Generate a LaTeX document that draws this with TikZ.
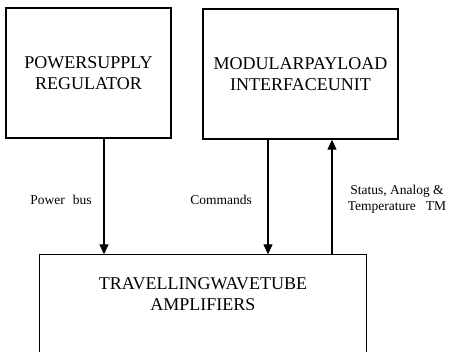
\documentclass[tikz,border=0pt]{standalone}
\usepackage{fontspec}
\setmainfont{Liberation Serif}
\usetikzlibrary{arrows.meta,calc}
\tikzset{
  blockbox/.style={draw, line width=1.4pt, inner sep=0pt, align=center,
    font=\fontsize{18}{21.5}\selectfont},
  flow/.style={line width=1.1pt, -{Triangle[width=9pt,length=10pt]}},
  lbl/.style={inner sep=0pt, align=center, font=\fontsize{13.5}{16}\selectfont}
}
\begin{document}
\begin{tikzpicture}[x=1pt,y=-1pt]
  \useasboundingbox (0,0) rectangle (450,352);
  \clip (0,0) rectangle (450,352);

  % upper blocks
  \node[blockbox, minimum width=165pt, minimum height=130pt] (psr) at (88.5,73)
    {POWERSUPPLY\\REGULATOR};
  \node[blockbox, minimum width=195pt, minimum height=130pt] (mpiu) at (300.5,74)
    {MODULARPAYLOAD\\INTERFACEUNIT};

  % lower block, open at the bottom of the page
  \node[blockbox, draw=none, minimum width=326pt, minimum height=78pt] (twta) at (203,294)
    {TRAVELLINGWAVETUBE\\AMPLIFIERS};
  \draw[line width=1.4pt] ($(twta.south west)+(0,30)$) -- (twta.north west)
    -- (twta.north east) -- ($(twta.south east)+(0,30)$);

  % connector columns
  \coordinate (cpow) at (104,0);
  \coordinate (ccmd) at (268,0);
  \coordinate (ctm)  at (332,0);

  \draw[flow] (psr.south -| cpow) -- (twta.north -| cpow);
  \draw[flow] (mpiu.south -| ccmd) -- (twta.north -| ccmd);
  \draw[flow] (twta.north -| ctm) -- (mpiu.south -| ctm);

  % connector labels
  \node[lbl] (lpow) at (61,200) {Power\hspace{0.6em}bus};
  \node[lbl] (lcmd) at (221,200) {Commands};
  \node[lbl] (ltm) at (397,199) {Status, Analog \&\\Temperature\hspace{0.5em} TM};
\end{tikzpicture}
\end{document}
